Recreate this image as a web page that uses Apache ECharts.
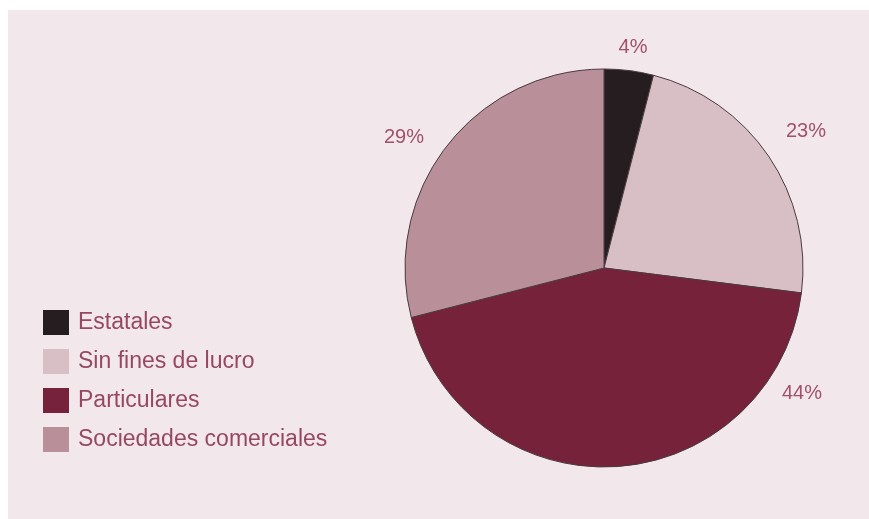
<!DOCTYPE html>
<html>
<head>
<meta charset="utf-8">
<script src="https://cdn.jsdelivr.net/npm/echarts@6/dist/echarts.min.js"></script>
<style>
  html, body { margin: 0; padding: 0; background: #ffffff; overflow: hidden; }
  #chart { width: 869px; height: 519px; }
</style>
</head>
<body>
<div id="chart"></div>
<script>
// Shares by type of ownership (percent)
const categories = ['Estatales', 'Sin fines de lucro', 'Particulares', 'Sociedades comerciales'];
const shares = [4, 23, 44, 29];
const sliceColors = ['#251d20', '#d8bec5', '#76223b', '#b98f9a'];

// Where each percentage label sits, in pixels
const labelSpots = [[633, 47], [806, 131], [802, 393], [404, 137]];

const chart = echarts.init(document.getElementById('chart'), null, { renderer: 'canvas' });

chart.setOption({
  backgroundColor: '#ffffff',
  animation: false,
  textStyle: { fontFamily: '"Liberation Sans", Arial, sans-serif' },
  graphic: [{
    type: 'rect',
    z: -10,
    silent: true,
    shape: { x: 8, y: 10, width: 900, height: 560 },
    style: { fill: '#f2e7eb' }
  }],
  legend: {
    orient: 'vertical',
    left: 43,
    top: 310,
    padding: 0,
    itemWidth: 26,
    itemHeight: 25,
    itemGap: 14,
    icon: 'rect',
    itemStyle: { borderWidth: 0 },
    textStyle: {
      fontSize: 23,
      color: '#964862',
      padding: [0, 0, 0, 4],
      fontFamily: '"Liberation Sans", Arial, sans-serif'
    },
    data: categories
  },
  series: [{
    type: 'pie',
    center: [604, 268],
    radius: 199,
    startAngle: 90,
    clockwise: true,
    avoidLabelOverlap: false,
    itemStyle: { borderColor: '#4a3a3e', borderWidth: 1 },
    label: {
      show: true,
      formatter: '{c}%',
      fontSize: 20,
      color: '#a0526a',
      fontFamily: '"Liberation Sans", Arial, sans-serif'
    },
    labelLine: { show: false },
    labelLayout: function (p) {
      const spot = labelSpots[p.dataIndex];
      return { x: spot[0], y: spot[1], align: 'center', verticalAlign: 'middle' };
    },
    emphasis: { disabled: true },
    data: categories.map((name, i) => ({
      name: name,
      value: shares[i],
      itemStyle: { color: sliceColors[i] }
    }))
  }]
});
</script>
</body>
</html>
